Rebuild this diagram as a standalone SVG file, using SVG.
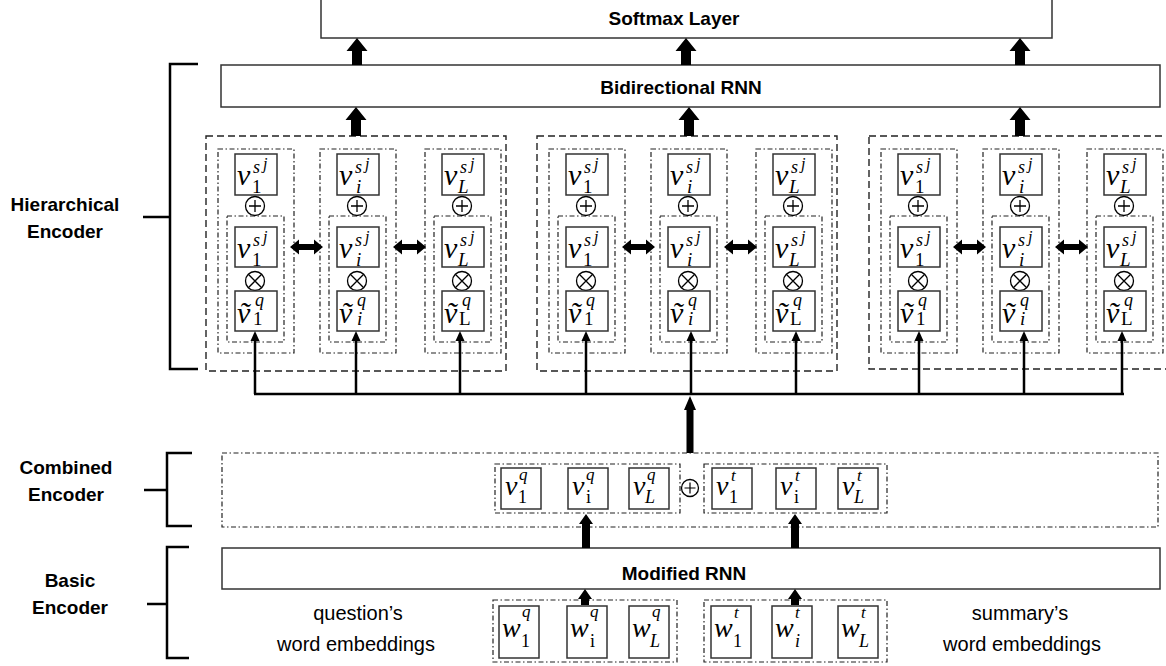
<svg xmlns="http://www.w3.org/2000/svg" width="1166" height="666" viewBox="0 0 1166 666">
<style>
.box{fill:#fff;stroke:#333;stroke-width:1.5}
.dash{fill:none;stroke:#222;stroke-width:1.4;stroke-dasharray:7 4}
.dd{fill:none;stroke:#222;stroke-width:1.2;stroke-dasharray:5 2.5 1.5 2.5}
.lbl{font-family:"Liberation Sans",Arial,sans-serif;font-weight:bold;font-size:19px;fill:#000}
.txt{font-family:"Liberation Sans",Arial,sans-serif;font-size:20px;fill:#000}
.m{font-family:"Liberation Serif","Times New Roman",serif;font-style:italic;fill:#000}
.n{font-style:normal}
.v{font-size:30px}.s{font-size:18px}.j{font-size:16px}.b{font-size:19px}
.cv{font-size:28px}.cs{font-size:17px}.cb{font-size:18px}
.op{fill:#fff;stroke:#000;stroke-width:1.3}
.arr{fill:#000;stroke:none}
.ln{stroke:#000;stroke-width:2.5;fill:none}
.br{stroke:#000;stroke-width:2.5;fill:none}
</style>
<defs>
<path id="dbl" d="M0,0 L9,-7.5 L9,-3 L24,-3 L24,-7.5 L33,0 L24,7.5 L24,3 L9,3 L9,7.5 Z"/>
<g id="plus"><circle class="op" cx="0" cy="0" r="9.5"/><path d="M-6,0 H6 M0,-6 V6" stroke="#000" stroke-width="1.3"/></g>
<g id="times"><circle class="op" cx="0" cy="0" r="9.5"/><path d="M-6.7,-6.7 L6.7,6.7 M6.7,-6.7 L-6.7,6.7" stroke="#000" stroke-width="1.3"/></g>
<g id="plusS"><circle class="op" cx="0" cy="0" r="8.5"/><path d="M-5.5,0 H5.5 M0,-5.5 V5.5" stroke="#000" stroke-width="1.2"/></g>
<path id="thin" d="M0,0 L4.5,10 L-4.5,10 Z"/>
</defs>

<!-- side labels -->
<g id="hier-label">
<text class="lbl" x="65" y="211" text-anchor="middle">Hierarchical</text>
<text class="lbl" x="65" y="238" text-anchor="middle">Encoder</text>
<path class="br" d="M198,64 H170 V369 H198 M143,217 H170"/>
</g>
<g id="comb-label">
<text class="lbl" x="66" y="474" text-anchor="middle">Combined</text>
<text class="lbl" x="66" y="501" text-anchor="middle">Encoder</text>
<path class="br" d="M192,453 H167 V526 H192 M144,490 H167"/>
</g>
<g id="basic-label">
<text class="lbl" x="70" y="587" text-anchor="middle">Basic</text>
<text class="lbl" x="70" y="614" text-anchor="middle">Encoder</text>
<path class="br" d="M189,547 H167 V658 H189 M147,604 H167"/>
</g>

<!-- layers -->
<g id="softmax">
<rect class="box" x="321" y="-2" width="731" height="40"/>
<text class="lbl" x="674" y="25" text-anchor="middle">Softmax Layer</text>
</g>
<g id="birnn">
<rect class="box" x="221" y="65" width="939" height="42"/>
<text class="lbl" x="681" y="94" text-anchor="middle">Bidirectional RNN</text>
</g>
<g id="modrnn">
<rect class="box" x="222" y="548" width="938" height="41"/>
<text class="lbl" x="684" y="580" text-anchor="middle">Modified RNN</text>
</g>

<!-- hierarchical groups -->
<g id="group1"><rect class="dash" x="206" y="136" width="300" height="235"/></g>
<g id="group2"><rect class="dash" x="537" y="136" width="300" height="235"/></g>
<g id="group3"><rect class="dash" x="869" y="136" width="310" height="233"/></g>

<g id="g1c1">
<rect class="dd" x="218" y="149" width="76" height="204"/><rect class="dd" x="227" y="216" width="57" height="126"/>
<rect class="box" x="235" y="154" width="42" height="41"/>
<text class="m"><tspan class="v" x="237" y="185">v</tspan><tspan class="s" x="253" y="173">s</tspan><tspan class="j" x="263" y="169">j</tspan><tspan class="n b" x="252" y="193">1</tspan></text>
<use href="#plus" x="255" y="206"/>
<rect class="box" x="235" y="227" width="42" height="40"/>
<text class="m"><tspan class="v" x="237" y="258">v</tspan><tspan class="s" x="253" y="246">s</tspan><tspan class="j" x="263" y="242">j</tspan><tspan class="n b" x="252" y="266">1</tspan></text>
<use href="#times" x="255" y="281"/>
<rect class="box" x="235" y="291" width="42" height="40"/>
<text class="m"><tspan class="v" x="237" y="323">ṽ</tspan><tspan class="s" x="255" y="306">q</tspan><tspan class="n b" x="253" y="325">1</tspan></text>
</g>
<g id="g1c2">
<rect class="dd" x="320" y="149" width="76" height="204"/><rect class="dd" x="329" y="216" width="57" height="126"/>
<rect class="box" x="337" y="154" width="42" height="41"/>
<text class="m"><tspan class="v" x="339" y="185">v</tspan><tspan class="s" x="355" y="173">s</tspan><tspan class="j" x="365" y="169">j</tspan><tspan class="b" x="356" y="193">i</tspan></text>
<use href="#plus" x="357" y="206"/>
<rect class="box" x="337" y="227" width="42" height="40"/>
<text class="m"><tspan class="v" x="339" y="258">v</tspan><tspan class="s" x="355" y="246">s</tspan><tspan class="j" x="365" y="242">j</tspan><tspan class="b" x="356" y="266">i</tspan></text>
<use href="#times" x="357" y="281"/>
<rect class="box" x="337" y="291" width="42" height="40"/>
<text class="m"><tspan class="v" x="339" y="323">ṽ</tspan><tspan class="s" x="357" y="306">q</tspan><tspan class="b" x="357" y="325">i</tspan></text>
</g>
<g id="g1c3">
<rect class="dd" x="425" y="149" width="76" height="204"/><rect class="dd" x="434" y="216" width="57" height="126"/>
<rect class="box" x="442" y="154" width="42" height="41"/>
<text class="m"><tspan class="v" x="444" y="185">v</tspan><tspan class="s" x="460" y="173">s</tspan><tspan class="j" x="470" y="169">j</tspan><tspan class="b" x="458" y="193">L</tspan></text>
<use href="#plus" x="462" y="206"/>
<rect class="box" x="442" y="227" width="42" height="40"/>
<text class="m"><tspan class="v" x="444" y="258">v</tspan><tspan class="s" x="460" y="246">s</tspan><tspan class="j" x="470" y="242">j</tspan><tspan class="b" x="458" y="266">L</tspan></text>
<use href="#times" x="462" y="281"/>
<rect class="box" x="442" y="291" width="42" height="40"/>
<text class="m"><tspan class="v" x="444" y="323">ṽ</tspan><tspan class="s" x="462" y="306">q</tspan><tspan class="n b" x="459" y="325">L</tspan></text>
</g>

<g id="g2c1">
<rect class="dd" x="549" y="149" width="76" height="204"/><rect class="dd" x="558" y="216" width="57" height="126"/>
<rect class="box" x="566" y="154" width="42" height="41"/>
<text class="m"><tspan class="v" x="568" y="185">v</tspan><tspan class="s" x="584" y="173">s</tspan><tspan class="j" x="594" y="169">j</tspan><tspan class="n b" x="583" y="193">1</tspan></text>
<use href="#plus" x="586" y="206"/>
<rect class="box" x="566" y="227" width="42" height="40"/>
<text class="m"><tspan class="v" x="568" y="258">v</tspan><tspan class="s" x="584" y="246">s</tspan><tspan class="j" x="594" y="242">j</tspan><tspan class="n b" x="583" y="266">1</tspan></text>
<use href="#times" x="586" y="281"/>
<rect class="box" x="566" y="291" width="42" height="40"/>
<text class="m"><tspan class="v" x="568" y="323">ṽ</tspan><tspan class="s" x="586" y="306">q</tspan><tspan class="n b" x="584" y="325">1</tspan></text>
</g>
<g id="g2c2">
<rect class="dd" x="651" y="149" width="76" height="204"/><rect class="dd" x="660" y="216" width="57" height="126"/>
<rect class="box" x="668" y="154" width="42" height="41"/>
<text class="m"><tspan class="v" x="670" y="185">v</tspan><tspan class="s" x="686" y="173">s</tspan><tspan class="j" x="696" y="169">j</tspan><tspan class="b" x="687" y="193">i</tspan></text>
<use href="#plus" x="688" y="206"/>
<rect class="box" x="668" y="227" width="42" height="40"/>
<text class="m"><tspan class="v" x="670" y="258">v</tspan><tspan class="s" x="686" y="246">s</tspan><tspan class="j" x="696" y="242">j</tspan><tspan class="b" x="687" y="266">i</tspan></text>
<use href="#times" x="688" y="281"/>
<rect class="box" x="668" y="291" width="42" height="40"/>
<text class="m"><tspan class="v" x="670" y="323">ṽ</tspan><tspan class="s" x="688" y="306">q</tspan><tspan class="b" x="688" y="325">i</tspan></text>
</g>
<g id="g2c3">
<rect class="dd" x="756" y="149" width="76" height="204"/><rect class="dd" x="765" y="216" width="57" height="126"/>
<rect class="box" x="773" y="154" width="42" height="41"/>
<text class="m"><tspan class="v" x="775" y="185">v</tspan><tspan class="s" x="791" y="173">s</tspan><tspan class="j" x="801" y="169">j</tspan><tspan class="b" x="789" y="193">L</tspan></text>
<use href="#plus" x="793" y="206"/>
<rect class="box" x="773" y="227" width="42" height="40"/>
<text class="m"><tspan class="v" x="775" y="258">v</tspan><tspan class="s" x="791" y="246">s</tspan><tspan class="j" x="801" y="242">j</tspan><tspan class="b" x="789" y="266">L</tspan></text>
<use href="#times" x="793" y="281"/>
<rect class="box" x="773" y="291" width="42" height="40"/>
<text class="m"><tspan class="v" x="775" y="323">ṽ</tspan><tspan class="s" x="793" y="306">q</tspan><tspan class="n b" x="790" y="325">L</tspan></text>
</g>

<g id="g3c1">
<rect class="dd" x="881" y="149" width="76" height="204"/><rect class="dd" x="890" y="216" width="57" height="126"/>
<rect class="box" x="898" y="154" width="42" height="41"/>
<text class="m"><tspan class="v" x="900" y="185">v</tspan><tspan class="s" x="916" y="173">s</tspan><tspan class="j" x="926" y="169">j</tspan><tspan class="n b" x="915" y="193">1</tspan></text>
<use href="#plus" x="918" y="206"/>
<rect class="box" x="898" y="227" width="42" height="40"/>
<text class="m"><tspan class="v" x="900" y="258">v</tspan><tspan class="s" x="916" y="246">s</tspan><tspan class="j" x="926" y="242">j</tspan><tspan class="n b" x="915" y="266">1</tspan></text>
<use href="#times" x="918" y="281"/>
<rect class="box" x="898" y="291" width="42" height="40"/>
<text class="m"><tspan class="v" x="900" y="323">ṽ</tspan><tspan class="s" x="918" y="306">q</tspan><tspan class="n b" x="916" y="325">1</tspan></text>
</g>
<g id="g3c2">
<rect class="dd" x="983" y="149" width="76" height="204"/><rect class="dd" x="992" y="216" width="57" height="126"/>
<rect class="box" x="1000" y="154" width="42" height="41"/>
<text class="m"><tspan class="v" x="1002" y="185">v</tspan><tspan class="s" x="1018" y="173">s</tspan><tspan class="j" x="1028" y="169">j</tspan><tspan class="b" x="1019" y="193">i</tspan></text>
<use href="#plus" x="1020" y="206"/>
<rect class="box" x="1000" y="227" width="42" height="40"/>
<text class="m"><tspan class="v" x="1002" y="258">v</tspan><tspan class="s" x="1018" y="246">s</tspan><tspan class="j" x="1028" y="242">j</tspan><tspan class="b" x="1019" y="266">i</tspan></text>
<use href="#times" x="1020" y="281"/>
<rect class="box" x="1000" y="291" width="42" height="40"/>
<text class="m"><tspan class="v" x="1002" y="323">ṽ</tspan><tspan class="s" x="1020" y="306">q</tspan><tspan class="b" x="1020" y="325">i</tspan></text>
</g>
<g id="g3c3">
<rect class="dd" x="1087" y="149" width="76" height="204"/><rect class="dd" x="1096" y="216" width="57" height="126"/>
<rect class="box" x="1104" y="154" width="42" height="41"/>
<text class="m"><tspan class="v" x="1106" y="185">v</tspan><tspan class="s" x="1122" y="173">s</tspan><tspan class="j" x="1132" y="169">j</tspan><tspan class="b" x="1120" y="193">L</tspan></text>
<use href="#plus" x="1124" y="206"/>
<rect class="box" x="1104" y="227" width="42" height="40"/>
<text class="m"><tspan class="v" x="1106" y="258">v</tspan><tspan class="s" x="1122" y="246">s</tspan><tspan class="j" x="1132" y="242">j</tspan><tspan class="b" x="1120" y="266">L</tspan></text>
<use href="#times" x="1124" y="281"/>
<rect class="box" x="1104" y="291" width="42" height="40"/>
<text class="m"><tspan class="v" x="1106" y="323">ṽ</tspan><tspan class="s" x="1124" y="306">q</tspan><tspan class="n b" x="1121" y="325">L</tspan></text>
</g>

<!-- combined encoder -->
<g id="combined">
<rect class="dd" x="222" y="453" width="936" height="74"/>
</g>
<g id="comb-q">
<rect class="dd" x="495" y="464" width="185" height="49"/>
<rect class="box" x="501" y="468" width="40" height="41"/>
<text class="m"><tspan class="cv" x="505" y="495">v</tspan><tspan class="cs" x="519" y="480">q</tspan><tspan class="n cb" x="518" y="503">1</tspan></text>
<rect class="box" x="568" y="468" width="40" height="41"/>
<text class="m"><tspan class="cv" x="572" y="495">v</tspan><tspan class="cs" x="586" y="480">q</tspan><tspan class="n cb" x="586" y="503">i</tspan></text>
<rect class="box" x="629" y="468" width="40" height="41"/>
<text class="m"><tspan class="cv" x="633" y="495">v</tspan><tspan class="cs" x="647" y="480">q</tspan><tspan class="cb" x="645" y="503">L</tspan></text>
</g>
<g id="comb-op"><use href="#plusS" x="690" y="488"/></g>
<g id="comb-t">
<rect class="dd" x="704" y="464" width="183" height="49"/>
<rect class="box" x="712" y="468" width="40" height="41"/>
<text class="m"><tspan class="cv" x="716" y="495">v</tspan><tspan class="cs" x="731" y="481">t</tspan><tspan class="n cb" x="729" y="503">1</tspan></text>
<rect class="box" x="776" y="468" width="40" height="41"/>
<text class="m"><tspan class="cv" x="780" y="495">v</tspan><tspan class="cs" x="795" y="481">t</tspan><tspan class="n cb" x="794" y="503">i</tspan></text>
<rect class="box" x="838" y="468" width="40" height="41"/>
<text class="m"><tspan class="cv" x="842" y="495">v</tspan><tspan class="cs" x="857" y="481">t</tspan><tspan class="cb" x="854" y="503">L</tspan></text>
</g>

<!-- word embeddings -->
<g id="words-q">
<rect class="dd" x="493" y="600" width="184" height="62"/>
<rect class="box" x="499" y="606" width="40" height="52"/>
<text class="m"><tspan class="cv" x="502" y="637">w</tspan><tspan class="cs" x="522" y="617">q</tspan><tspan class="n cb" x="521" y="647">1</tspan></text>
<rect class="box" x="567" y="606" width="40" height="52"/>
<text class="m"><tspan class="cv" x="570" y="637">w</tspan><tspan class="cs" x="590" y="617">q</tspan><tspan class="n cb" x="590" y="647">i</tspan></text>
<rect class="box" x="629" y="606" width="40" height="52"/>
<text class="m"><tspan class="cv" x="632" y="637">w</tspan><tspan class="cs" x="652" y="617">q</tspan><tspan class="cb" x="650" y="647">L</tspan></text>
</g>
<g id="words-t">
<rect class="dd" x="704" y="600" width="183" height="62"/>
<rect class="box" x="711" y="606" width="40" height="52"/>
<text class="m"><tspan class="cv" x="714" y="637">w</tspan><tspan class="cs" x="734" y="618">t</tspan><tspan class="n cb" x="733" y="647">1</tspan></text>
<rect class="box" x="772" y="606" width="40" height="52"/>
<text class="m"><tspan class="cv" x="775" y="637">w</tspan><tspan class="cs" x="795" y="618">t</tspan><tspan class="cb" x="795" y="647">i</tspan></text>
<rect class="box" x="838" y="606" width="40" height="52"/>
<text class="m"><tspan class="cv" x="841" y="637">w</tspan><tspan class="cs" x="861" y="618">t</tspan><tspan class="cb" x="859" y="647">L</tspan></text>
</g>
<g id="q-label">
<text class="txt" x="358" y="620" text-anchor="middle">question’s</text>
<text class="txt" x="356" y="651" text-anchor="middle">word embeddings</text>
</g>
<g id="s-label">
<text class="txt" x="1020" y="620" text-anchor="middle">summary’s</text>
<text class="txt" x="1022" y="651" text-anchor="middle">word embeddings</text>
</g>

<!-- connectors -->
<g id="connectors">
<path class="arr" d="M357,38 L367.5,51 L362,51 L362,65 L352,65 L352,51 L346.5,51 Z"/>
<path class="arr" d="M686,38 L696.5,51 L691,51 L691,65 L681,65 L681,51 L675.5,51 Z"/>
<path class="arr" d="M1020,38 L1030.5,51 L1025,51 L1025,65 L1015,65 L1015,51 L1009.5,51 Z"/>
<path class="arr" d="M356,107 L366.5,120 L361,120 L361,136 L351,136 L351,120 L345.5,120 Z"/>
<path class="arr" d="M689,107 L699.5,120 L694,120 L694,136 L684,136 L684,120 L678.5,120 Z"/>
<path class="arr" d="M1020,107 L1030.5,120 L1025,120 L1025,136 L1015,136 L1015,120 L1009.5,120 Z"/>
<use class="arr" href="#dbl" x="290" y="247"/>
<use class="arr" href="#dbl" x="393" y="247"/>
<use class="arr" href="#dbl" x="622" y="247"/>
<use class="arr" href="#dbl" x="724" y="247"/>
<use class="arr" href="#dbl" x="953" y="247"/>
<use class="arr" href="#dbl" x="1055" y="247"/>
<path class="ln" d="M254,394 H1124 M255,394 V340 M356,394 V340 M460,394 V340 M586,394 V340 M691,394 V340 M796,394 V340 M919,394 V340 M1024,394 V340 M1122,394 V340"/>
<use class="arr" href="#thin" x="255" y="331"/>
<use class="arr" href="#thin" x="356" y="331"/>
<use class="arr" href="#thin" x="460" y="331"/>
<use class="arr" href="#thin" x="586" y="331"/>
<use class="arr" href="#thin" x="691" y="331"/>
<use class="arr" href="#thin" x="796" y="331"/>
<use class="arr" href="#thin" x="919" y="331"/>
<use class="arr" href="#thin" x="1024" y="331"/>
<use class="arr" href="#thin" x="1122" y="331"/>
<path class="arr" d="M690,396 L696,410 L693.5,410 L693.5,453 L686.5,453 L686.5,410 L684,410 Z"/>
<path class="arr" d="M586,514 L593,524 L590,524 L590,548 L582,548 L582,524 L579,524 Z"/>
<path class="arr" d="M795,514 L802,524 L799,524 L799,548 L791,548 L791,524 L788,524 Z"/>
<path class="arr" d="M585,589 L592,599 L589,599 L589,605 L581,605 L581,599 L578,599 Z"/>
<path class="arr" d="M795,589 L802,599 L799,599 L799,605 L791,605 L791,599 L788,599 Z"/>
</g>
</svg>
